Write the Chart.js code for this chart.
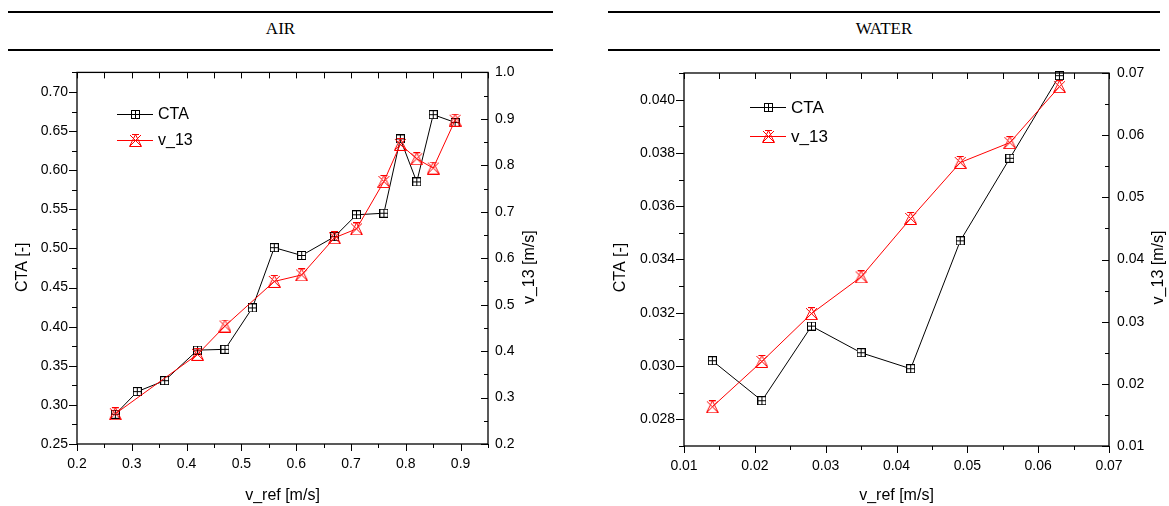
<!DOCTYPE html>
<html>
<head>
<meta charset="utf-8">
<script src="https://cdn.jsdelivr.net/npm/chart.js@4.4.1/dist/chart.umd.min.js"></script>
<style>
  body { margin: 0; background: #fff; width: 1169px; height: 506px; position: relative; overflow: hidden; }
  .band { position: absolute; top: 11px; height: 36px; line-height: 32px; border-top: 2px solid #000; border-bottom: 2px solid #000;
          font-family: "Liberation Serif", "Times New Roman", serif; font-size: 17px; text-align: center; color: #000; }
  canvas { position: absolute; }
</style>
</head>
<body>
<div class="band" style="left:8px;width:545px">AIR</div>
<div class="band" style="left:608px;width:552px">WATER</div>
<canvas id="air" width="555" height="451" style="left:0;top:55px"></canvas>
<canvas id="water" width="569" height="451" style="left:600px;top:55px"></canvas>
<script>
// values
const airCtaX  = [0.27, 0.31, 0.36, 0.42, 0.47, 0.52, 0.56, 0.61, 0.67, 0.71, 0.76, 0.79, 0.82, 0.85, 0.89];
const airCtaY  = [0.288, 0.317, 0.331, 0.370, 0.371, 0.424, 0.501, 0.491, 0.515, 0.543, 0.545, 0.640, 0.585, 0.671, 0.661];
const airV13X  = [0.27, 0.42, 0.47, 0.56, 0.61, 0.67, 0.71, 0.76, 0.79, 0.82, 0.85, 0.89];
const airV13Y  = [0.265, 0.393, 0.454, 0.550, 0.564, 0.644, 0.663, 0.765, 0.845, 0.814, 0.794, 0.897];

const waterX   = [0.014, 0.021, 0.028, 0.035, 0.042, 0.049, 0.056, 0.063];
const waterCta = [0.0302, 0.0287, 0.0315, 0.0305, 0.0299, 0.0347, 0.0378, 0.0409];
const waterV13 = [0.0163, 0.0236, 0.0313, 0.0372, 0.0466, 0.0556, 0.0588, 0.0678];

// axis ranges and tick labels
const airXRange = [0.2, 0.95];
const airXTicks = [0.2, 0.3, 0.4, 0.5, 0.6, 0.7, 0.8, 0.9];
const airCtaRange = [0.25, 0.725];
const airCtaTicks = [0.25, 0.30, 0.35, 0.40, 0.45, 0.50, 0.55, 0.60, 0.65, 0.70];
const airV13Range = [0.2, 1.0];
const airV13Ticks = [0.2, 0.3, 0.4, 0.5, 0.6, 0.7, 0.8, 0.9, 1.0];

const waterXRange = [0.01, 0.07];
const waterXTicks = [0.01, 0.02, 0.03, 0.04, 0.05, 0.06, 0.07];
const waterCtaRange = [0.027, 0.041];
const waterCtaTicks = [0.028, 0.030, 0.032, 0.034, 0.036, 0.038, 0.040];
const waterV13Range = [0.01, 0.07];
const waterV13Ticks = [0.01, 0.02, 0.03, 0.04, 0.05, 0.06, 0.07];

const FONT = '"Liberation Sans", Arial, sans-serif';
Chart.defaults.font.family = FONT;
Chart.defaults.color = '#000';

function ctaMark() {
  const c = document.createElement('canvas');
  c.width = 9; c.height = 9;
  const g = c.getContext('2d');
  g.fillStyle = '#fff'; g.fillRect(0, 0, 9, 9);
  g.strokeStyle = '#000'; g.lineWidth = 1;
  g.strokeRect(0.5, 0.5, 8, 8);
  g.beginPath();
  g.moveTo(4.5, 0.5); g.lineTo(4.5, 8.5);
  g.moveTo(0.5, 4.5); g.lineTo(8.5, 4.5);
  g.stroke();
  return c;
}

function v13Mark() {
  const c = document.createElement('canvas');
  c.width = 13; c.height = 13;
  const g = c.getContext('2d');
  g.strokeStyle = '#ff0000'; g.lineWidth = 1;
  g.beginPath();
  g.moveTo(6.5, 0.5); g.lineTo(12.5, 12.5); g.lineTo(0.5, 12.5); g.closePath();
  g.moveTo(1, 1); g.lineTo(12, 12);
  g.moveTo(12, 1); g.lineTo(1, 12);
  g.moveTo(3, 0.5); g.lineTo(10, 0.5);
  g.stroke();
  return c;
}

const CTA_MARK = ctaMark();
const V13_MARK = v13Mark();

function minorsOf(scale, majors) {
  const step = majors[1] - majors[0];
  const out = [];
  for (let v = majors[0] - step / 2; v <= scale.max + step * 1e-6; v += step / 2) {
    if (v >= scale.min - step * 1e-6) out.push(v);
  }
  return out;
}

// frame, tick marks, y titles and legend
const decor = {
  id: 'decor',
  afterDraw(chart, args, o) {
    const ctx = chart.ctx;
    const { left, right, top, bottom } = chart.chartArea;
    const sx = chart.scales.x, sy = chart.scales.y, sy1 = chart.scales.y1;
    ctx.save();
    ctx.strokeStyle = '#000';
    ctx.lineWidth = 1.3;
    ctx.strokeRect(left, top, right - left, bottom - top);

    ctx.lineWidth = 1;
    ctx.beginPath();
    const xMaj = o.xTicks, xAll = minorsOf(sx, xMaj);
    xAll.forEach(v => {
      const p = Math.round(sx.getPixelForValue(v)) + 0.5;
      const major = xMaj.some(m => Math.abs(m - v) < 1e-9);
      ctx.moveTo(p, bottom); ctx.lineTo(p, bottom + (major ? 7 : 4));
      ctx.moveTo(p, top); ctx.lineTo(p, top + 6);
    });
    const yMaj = o.yTicks;
    minorsOf(sy, yMaj).forEach(v => {
      const p = Math.round(sy.getPixelForValue(v)) + 0.5;
      const major = yMaj.some(m => Math.abs(m - v) < 1e-9);
      ctx.moveTo(left, p); ctx.lineTo(left - (major ? 8 : 5), p);
    });
    const y1Maj = o.y1Ticks;
    minorsOf(sy1, y1Maj).forEach(v => {
      const p = Math.round(sy1.getPixelForValue(v)) + 0.5;
      const major = y1Maj.some(m => Math.abs(m - v) < 1e-9);
      ctx.moveTo(right, p); ctx.lineTo(right - (major ? 7 : 4), p);
    });
    ctx.stroke();

    // y titles, both read bottom to top
    ctx.fillStyle = '#000';
    ctx.font = '16px ' + FONT;
    ctx.textAlign = 'center';
    ctx.textBaseline = 'middle';
    const cy = (top + bottom) / 2 + o.titleShift;
    [[o.leftTitleX, sy.options.title.text], [o.rightTitleX, sy1.options.title.text]].forEach(([x, t]) => {
      ctx.save();
      ctx.translate(x, cy);
      ctx.rotate(-Math.PI / 2);
      ctx.fillText(t, 0, 0);
      ctx.restore();
    });

    // legend
    ctx.font = o.legend.size + 'px ' + FONT;
    ctx.textAlign = 'left';
    chart.data.datasets.forEach((ds, i) => {
      const y = o.legend.y + i * o.legend.gap;
      const x = o.legend.x;
      ctx.strokeStyle = ds.borderColor;
      ctx.lineWidth = 1;
      ctx.beginPath(); ctx.moveTo(x, y + 0.5); ctx.lineTo(x + 36, y + 0.5); ctx.stroke();
      const img = ds.pointStyle;
      ctx.drawImage(img, Math.round(x + 18 - img.width / 2), Math.round(y - img.height / 2));
      ctx.fillStyle = '#000';
      ctx.fillText(ds.label, x + 41, y + 1);
    });
    ctx.restore();
  }
};

function axis(pos, range, ticks, dec, size, pad, title) {
  return {
    type: 'linear',
    position: pos,
    min: range[0],
    max: range[1],
    afterBuildTicks: s => { s.ticks = ticks.map(v => ({ value: v })); },
    afterFit: s => { if (pos === 'bottom') s.height = size; else s.width = size; },
    grid: { display: false, drawTicks: false },
    border: { display: false },
    ticks: {
      color: '#000',
      font: { size: 14 },
      padding: pad,
      autoSkip: false,
      maxRotation: 0,
      callback: v => Number(v).toFixed(dec)
    },
    title: {
      display: pos === 'bottom',
      text: title,
      color: '#000',
      font: { size: 16 },
      padding: { top: 0, bottom: 1 }
    }
  };
}

function pts(xs, ys) {
  return xs.map((x, i) => ({ x: x, y: ys[i] }));
}

function series(label, data, color, mark, yAxis, order) {
  return {
    label: label,
    data: data,
    showLine: true,
    borderColor: color,
    borderWidth: 1,
    pointStyle: mark,
    pointRadius: 5,
    yAxisID: yAxis,
    clip: false,
    order: order
  };
}

new Chart(document.getElementById('air'), {
  type: 'scatter',
  data: {
    datasets: [
      series('CTA', pts(airCtaX, airCtaY), '#000000', CTA_MARK, 'y', 1),
      series('v_13', pts(airV13X, airV13Y), '#ff0000', V13_MARK, 'y1', 0)
    ]
  },
  options: {
    responsive: false,
    animation: false,
    layout: { padding: { top: 13, left: 0, right: 0, bottom: 0 } },
    plugins: {
      legend: { display: false },
      tooltip: { enabled: false },
      decor: {
        xTicks: airXTicks, yTicks: airCtaTicks, y1Ticks: airV13Ticks,
        leftTitleX: 23, rightTitleX: 530, titleShift: 9,
        legend: { x: 117, y: 59, gap: 26, size: 16 }
      }
    },
    scales: {
      x: axis('bottom', airXRange, airXTicks, 1, 62, 12, 'v_ref [m/s]'),
      y: axis('left', airCtaRange, airCtaTicks, 2, 77, 9, 'CTA [-]'),
      y1: axis('right', airV13Range, airV13Ticks, 1, 67, 7, 'v_13 [m/s]')
    }
  },
  plugins: [decor]
});

new Chart(document.getElementById('water'), {
  type: 'scatter',
  data: {
    datasets: [
      series('CTA', pts(waterX, waterCta), '#000000', CTA_MARK, 'y', 1),
      series('v_13', pts(waterX, waterV13), '#ff0000', V13_MARK, 'y1', 0)
    ]
  },
  options: {
    responsive: false,
    animation: false,
    layout: { padding: { top: 18, left: 0, right: 0, bottom: 0 } },
    plugins: {
      legend: { display: false },
      tooltip: { enabled: false },
      decor: {
        xTicks: waterXTicks, yTicks: waterCtaTicks, y1Ticks: waterV13Ticks,
        leftTitleX: 21, rightTitleX: 559, titleShift: 8,
        legend: { x: 150, y: 52, gap: 29, size: 17 }
      }
    },
    scales: {
      x: axis('bottom', waterXRange, waterXTicks, 2, 60, 12, 'v_ref [m/s]'),
      y: axis('left', waterCtaRange, waterCtaTicks, 3, 84, 9, 'CTA [-]'),
      y1: axis('right', waterV13Range, waterV13Ticks, 2, 60, 8, 'v_13 [m/s]')
    }
  },
  plugins: [decor]
});
</script>
</body>
</html>
